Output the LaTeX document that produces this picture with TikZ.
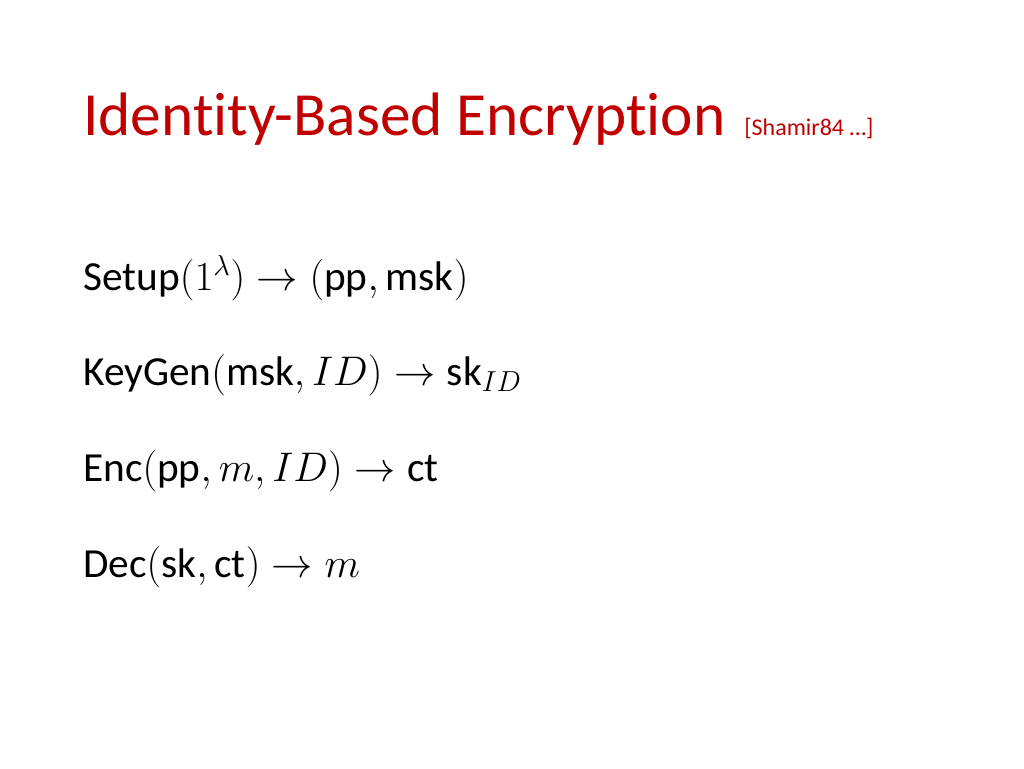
\documentclass[tikz,border=0pt]{standalone}
\usepackage{fix-cm}
\usepackage{amsmath}
\usepackage{fontspec}
\setmainfont[Ligatures=NoCommon]{Carlito}
\definecolor{titlered}{RGB}{192,0,0}
\newcommand{\opn}[1]{\text{#1}}
\tikzset{line/.style={anchor=base west,inner sep=0pt,font=\fontsize{31}{38}\selectfont}}
\begin{document}
\begin{tikzpicture}[x=0.75pt,y=-0.75pt]
\useasboundingbox (0,0) rectangle (1024,768);
\node[anchor=base west,inner sep=0pt,text=titlered,font=\fontsize{46}{55}\selectfont] (title) at (83,135) {Identity-Based Encryption};
\node[anchor=base west,inner sep=0pt,text=titlered,font=\fontsize{18}{21}\selectfont] (cite) at (744,135) {[Shamir84 \dots]};
\node[line] (setup) at (83,290) {Setup$(1^\lambda)\to(\opn{pp},\opn{msk})$};
\node[line] (keygen) at (83,385) {KeyGen$(\opn{msk},ID)\to\opn{sk}_{ID}$};
\node[line] (enc) at (83,481) {Enc$(\opn{pp},m,ID)\to\opn{ct}$};
\node[line] (dec) at (83,577) {Dec$(\opn{sk},\opn{ct})\to m$};
\end{tikzpicture}
\end{document}
